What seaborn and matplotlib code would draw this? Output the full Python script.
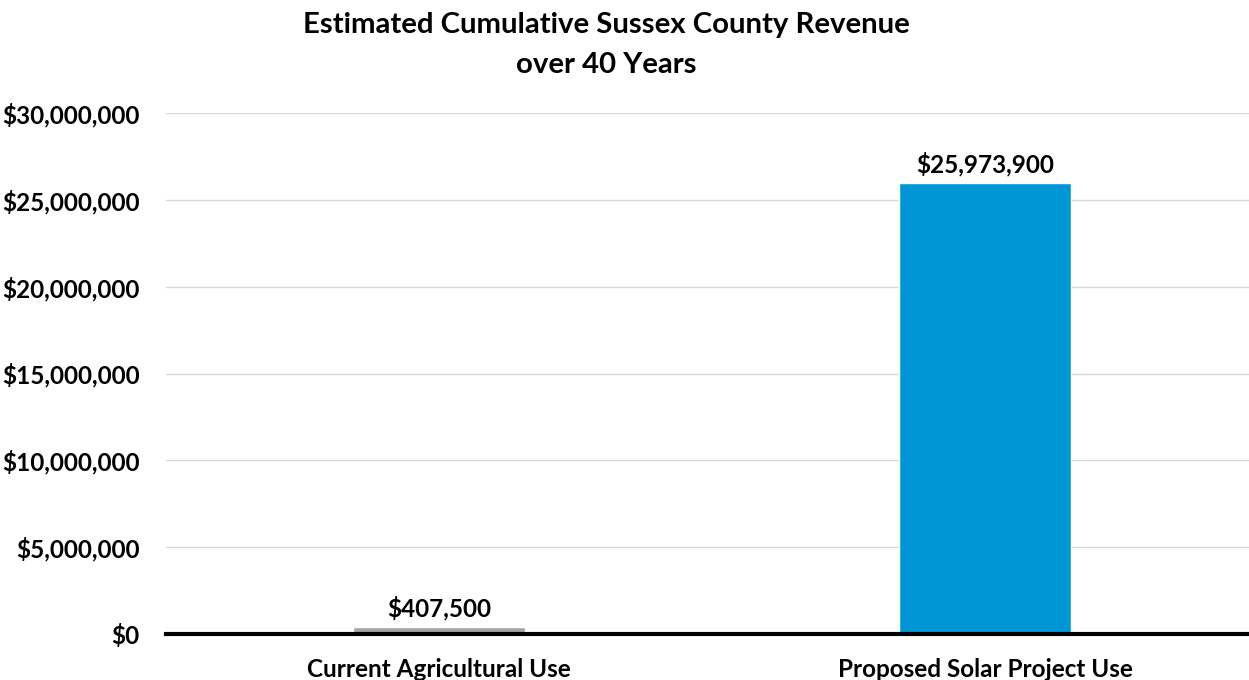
import matplotlib
matplotlib.use("Agg")
import matplotlib.pyplot as plt
import seaborn as sns
import pandas as pd
from matplotlib.ticker import FuncFormatter

categories = ["Current Agricultural Use", "Proposed Solar Project Use"]
revenue = [407500, 25973900]
bar_colors = ["#A5A5A5", "#0096D6"]
y_ticks = [0, 5_000_000, 10_000_000, 15_000_000, 20_000_000, 25_000_000, 30_000_000]

sns.set_style("white")
plt.rcParams["font.family"] = ["Lato", "DejaVu Sans"]
plt.rcParams["font.weight"] = "bold"
plt.rcParams["text.color"] = "black"
plt.rcParams["xtick.color"] = "black"
plt.rcParams["ytick.color"] = "black"

df = pd.DataFrame({"use": categories, "revenue": revenue})

fig = plt.figure(figsize=(12.49, 6.8), dpi=100)
ax = fig.add_axes([166 / 1249, 46 / 680, 1092 / 1249, 521 / 680])

sns.barplot(data=df, x="use", y="revenue", hue="use", palette=bar_colors,
            width=0.315, legend=False, ax=ax, saturation=1, zorder=3)

ax.set_ylim(0, 30_000_000)
ax.set_xlim(-0.5, 1.5)
ax.set_yticks(y_ticks)
ax.yaxis.set_major_formatter(FuncFormatter(lambda v, _: f"${v:,.0f}"))
ax.grid(axis="y", color="#D9D9D9", linewidth=1, zorder=0)
ax.set_axisbelow(True)

for s in ["top", "right", "left"]:
    ax.spines[s].set_visible(False)
ax.spines["bottom"].set_color("black")
ax.spines["bottom"].set_linewidth(3)
ax.spines["bottom"].set_zorder(5)

ax.tick_params(axis="y", length=0, labelsize=17.5, pad=19, labelcolor="black")
ax.tick_params(axis="x", length=0, labelsize=17.5, pad=17, labelcolor="black")
for lab in ax.get_xticklabels() + ax.get_yticklabels():
    lab.set_fontweight("bold")
ax.set_xlabel("")
ax.set_ylabel("")

for i, v in enumerate(revenue):
    ax.annotate(f"${v:,.0f}", (i, v), xytext=(0, 5), textcoords="offset points",
                ha="center", va="bottom", fontsize=17.5, fontweight="bold",
                color="black")

fig.text(606 / 1249, 1 - 45 / 680,
         "Estimated Cumulative Sussex County Revenue\nover 40 Years",
         ha="center", va="center", fontsize=21.2, fontweight="bold",
         linespacing=1.62, color="black")

fig.savefig("out.png", dpi=100)
